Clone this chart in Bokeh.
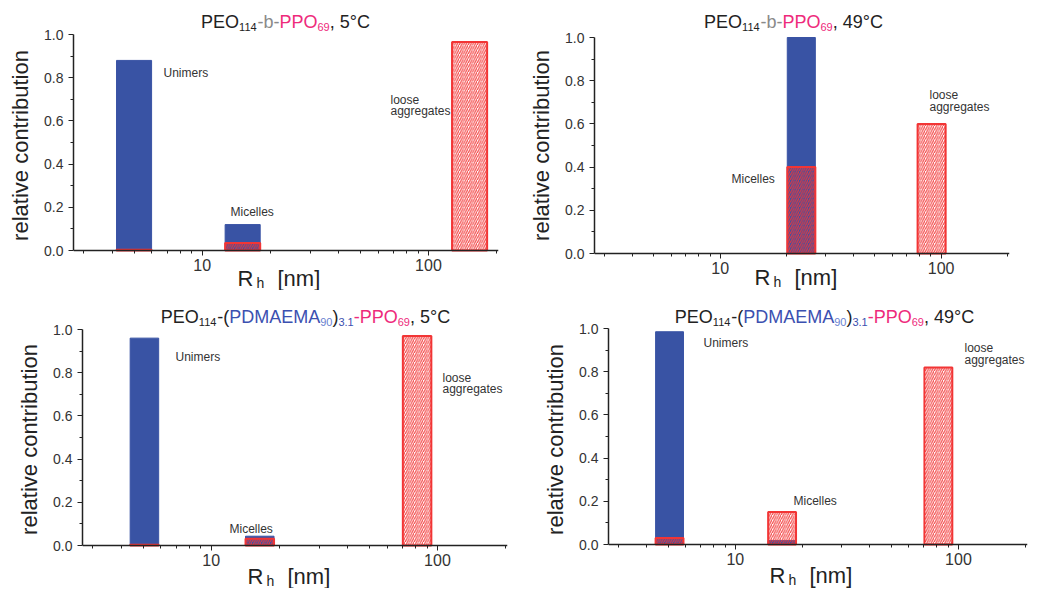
from bokeh.plotting import figure
from bokeh.layouts import column, row
from bokeh.models import Range1d, FixedTicker, PrintfTickFormatter, Label
from bokeh.embed import file_html
from bokeh.resources import INLINE

# ---------------- data ----------------
populations = ["Unimers", "Micelles", "loose aggregates"]

# PEO114-b-PPO69, 5 °C
rh_p1 = [5.0, 15.1, 152.0]
blue_p1 = [0.88, 0.12, 0.0]
red_p1 = [0.003, 0.035, 0.965]

# PEO114-b-PPO69, 49 °C (micelles, loose aggregates)
rh_p2 = [23.3, 90.6]
blue_p2 = [1.0, 0.0]
red_p2 = [0.40, 0.60]

# PEO114-(PDMAEMA90)3.1-PPO69, 5 °C
rh_p3 = [5.07, 16.4, 81.3]
blue_p3 = [0.96, 0.043, 0.0]
red_p3 = [0.003, 0.031, 0.97]

# PEO114-(PDMAEMA90)3.1-PPO69, 49 °C
rh_p4 = [5.07, 16.2, 81.3]
blue_p4 = [0.985, 0.018, 0.0]
red_p4 = [0.03, 0.15, 0.82]

x_major_ticks = [10, 100]
x_minor_ticks = [3, 4, 5, 6, 7, 8, 9, 20, 30, 40, 50, 60, 70, 80, 90, 200]
y_major_ticks = [0.0, 0.2, 0.4, 0.6, 0.8, 1.0]
y_minor_ticks = [0.1, 0.3, 0.5, 0.7, 0.9]

# ---------------- styles ----------------
FONT = "Liberation Sans"
BLACK = "#222222"
GRAY = "#8a8a8a"
PINK = "#ee2a7b"
TBLUE = "#3b50b0"
LBLUE = "#6a7fd0"
BAR_BLUE = "#3953a4"
RED = "#f23535"
NOTE = "#333333"
PX = 216.0  # pixels per unit of relative contribution

CW = {'P': .667, 'E': .667, 'O': .778, 'D': .722, 'M': .833, 'A': .667, 'C': .722,
      'b': .556, '-': .333, '(': .333, ')': .333, ',': .278, ' ': .278, '°': .4, '.': .278}


def text_w(s, size):
    return sum(CW.get(c, .556) for c in s) * size


title_p1 = [("PEO", BLACK, False), ("114", BLACK, True), ("-b-", GRAY, False),
            ("PPO", PINK, False), ("69", PINK, True), (", 5°C", BLACK, False)]
title_p2 = [("PEO", BLACK, False), ("114", BLACK, True), ("-b-", GRAY, False),
            ("PPO", PINK, False), ("69", PINK, True), (", 49°C", BLACK, False)]
title_p3 = [("PEO", BLACK, False), ("114", BLACK, True), ("-(", BLACK, False),
            ("PDMAEMA", TBLUE, False), ("90", LBLUE, True), (")", BLACK, False),
            ("3.1", TBLUE, True), ("-PPO", PINK, False), ("69", PINK, True),
            (", 5°C", BLACK, False)]
title_p4 = title_p3[:-1] + [(", 49°C", BLACK, False)]


def lab(p, text, x, py, size, color):
    p.add_layout(Label(x=x, y=py / PX, x_units="screen", y_units="data",
                       text=text, text_color=color, text_font=FONT,
                       text_font_size=f"{size}px", text_baseline="alphabetic",
                       text_align="left"))


def make_panel(rh, blue, red, width, height, borders, bar_w, title, tcx, tdy,
               notes, rlab):
    bl, br, bt, bb = borders
    p = figure(width=width, height=height, x_axis_type="log",
               x_range=Range1d(2.7, 204),
               y_range=Range1d(-bb / PX, 1.0 + bt / PX),
               output_backend="svg", toolbar_location=None,
               min_border_left=bl, min_border_right=br,
               min_border_top=0, min_border_bottom=0)
    p.outline_line_color = None
    p.grid.visible = False
    p.background_fill_color = "white"
    p.border_fill_color = "white"

    half = 10 ** (bar_w / 2)
    left = [r / half for r in rh]
    right = [r * half for r in rh]
    bi = [i for i, v in enumerate(blue) if v > 0]
    p.quad(left=[left[i] for i in bi], right=[right[i] for i in bi], bottom=0,
           top=[blue[i] for i in bi], fill_color=BAR_BLUE, line_color=BAR_BLUE,
           line_width=1)
    p.quad(left=left, right=right, bottom=0, top=red, fill_alpha=0,
           line_color=RED, line_width=2, hatch_pattern="/", hatch_color=RED,
           hatch_scale=4.5, hatch_weight=1.2, hatch_alpha=0.9)

    # axes
    xa = p.xaxis[0]
    xa.fixed_location = 0
    xa.ticker = FixedTicker(ticks=x_major_ticks, minor_ticks=x_minor_ticks)
    xa.formatter = PrintfTickFormatter(format="%d")
    ya = p.yaxis[0]
    ya.bounds = (0, 1)
    ya.ticker = FixedTicker(ticks=y_major_ticks, minor_ticks=y_minor_ticks)
    ya.formatter = PrintfTickFormatter(format="%.1f")
    ya.axis_label = "relative contribution"
    ya.axis_label_text_font = FONT
    ya.axis_label_text_font_size = "22px"
    ya.axis_label_text_font_style = "normal"
    ya.axis_label_text_color = BLACK
    ya.axis_label_standoff = 8
    for ax in (xa, ya):
        ax.axis_line_color = BLACK
        ax.axis_line_width = 1.5
        ax.major_tick_line_color = BLACK
        ax.minor_tick_line_color = BLACK
        ax.major_tick_in = 0
        ax.major_tick_out = 5
        ax.minor_tick_in = 0
        ax.minor_tick_out = 3
        ax.major_label_text_font = FONT
        ax.major_label_text_color = "#333333"
    xa.major_label_text_font_size = "16px"
    xa.major_label_standoff = 3
    ya.major_label_text_font_size = "14px"
    ya.major_label_standoff = 5

    # title (mixed colours + subscripts)
    main, sub = 18, 11
    total = sum(text_w(t, sub if s else main) for t, _, s in title)
    x = tcx - total / 2
    ty = PX + tdy
    for t, c, s in title:
        size = sub if s else main
        lab(p, t, x, ty - (5 if s else 0), size, c)
        x += text_w(t, size)

    # population notes
    for t, nx, ny in notes:
        lab(p, t, nx, ny, 12, NOTE)

    # x-axis label R_h [nm]
    rx, ry = rlab
    lab(p, "R", rx, ry, 22, BLACK)
    lab(p, "h", rx + 19, ry - 4, 14, BLACK)
    lab(p, "[nm]", rx + 40, ry, 22, BLACK)
    return p


p1 = make_panel(rh_p1, blue_p1, red_p1, 520, 290, (73, 22, 34, 40), 0.155,
                title_p1, 212, 13,
                [("Unimers", 90, 178), ("Micelles", 157, 39),
                 ("loose", 317, 151), ("aggregates", 317, 140)], (164, -28))
p2 = make_panel(rh_p2, blue_p2, red_p2, 516, 290, (74, 27, 37, 37), 0.127,
                title_p2, 199, 16,
                [("Micelles", 137, 75), ("loose", 335, 159),
                 ("aggregates", 335, 147)], (160, -24))
p3 = make_panel(rh_p3, blue_p3, red_p3, 520, 298, (82, 13, 39, 43), 0.126,
                title_p3, 223, 13,
                [("Unimers", 93, 189), ("Micelles", 147, 17),
                 ("loose", 360, 168), ("aggregates", 360, 157)], (165, -31))
p4 = make_panel(rh_p4, blue_p4, red_p4, 516, 298, (88, 9, 38, 44), 0.125,
                title_p4, 216, 12,
                [("Unimers", 95, 202), ("Micelles", 185, 44),
                 ("loose", 356, 197), ("aggregates", 356, 185)], (161, -31))

layout = column(row(p1, p2), row(p3, p4))
open("out.html", "w").write(file_html(layout, INLINE))
